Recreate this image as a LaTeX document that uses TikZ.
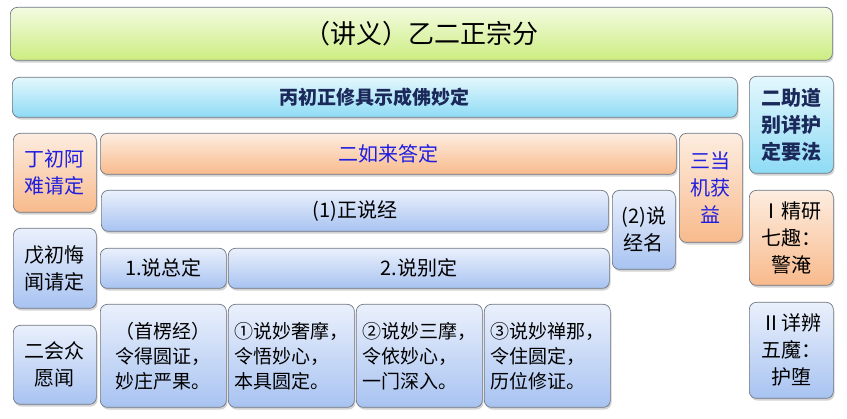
\documentclass[tikz,border=0pt]{standalone}
\usepackage{fontspec}
\setmainfont{Noto Sans CJK SC}
\usetikzlibrary{shadows}
\definecolor{gtop}{RGB}{244,251,226}
\definecolor{gbot}{RGB}{204,237,128}
\definecolor{ctop}{RGB}{228,247,253}
\definecolor{cbot}{RGB}{142,219,245}
\definecolor{otop}{RGB}{253,237,224}
\definecolor{obot}{RGB}{248,186,140}
\definecolor{btop}{RGB}{234,240,252}
\definecolor{bbot}{RGB}{168,195,241}
\definecolor{navy}{RGB}{26,40,90}
\definecolor{tblue}{RGB}{30,30,225}
\definecolor{edge}{RGB}{110,118,130}
\tikzset{
  cell/.style={draw=edge, line width=0.7pt, rounded corners=7pt, inner sep=0pt,
    align=center, anchor=north west, text=black,
    drop shadow={opacity=0.35, shadow xshift=1.2pt, shadow yshift=-2.2pt},
    font=\fontsize{20}{27}\selectfont},
  gfill/.style={top color=gtop, bottom color=gbot},
  cfill/.style={top color=ctop, bottom color=cbot, text=navy},
  ofill/.style={top color=otop, bottom color=obot, text=tblue},
  bfill/.style={top color=btop, bottom color=bbot},
  small/.style={font=\fontsize{19}{25}\selectfont},
}
\newcommand\mkbox[7]{%
  \node[cell,#6,minimum width={(#4-#2)*1pt},minimum height={(#5-#3)*1pt}]
    (#1) at (#2,#3) {#7};}
\begin{document}
\begin{tikzpicture}[x=1pt,y=-1pt]
\useasboundingbox (0,0) rectangle (847,419);
\mkbox{title}{10}{7}{832}{60}{gfill,font=\fontsize{26}{30}\selectfont}{（讲义）乙二正宗分}
\mkbox{bing}{12}{77}{737}{117}{cfill,font=\fontsize{19}{24}\selectfont\bfseries}{丙初正修具示成佛妙定}
\mkbox{zhu}{749}{76}{833}{173}{cfill,font=\fontsize{20}{27}\selectfont\bfseries}{二助道\\别详护\\定要法}
\mkbox{ding}{13}{133}{96}{212}{ofill}{丁初阿\\难请定}
\mkbox{rulai}{100}{133}{676}{174}{ofill}{二如来答定}
\mkbox{sandang}{679}{133}{742}{242}{ofill}{三当\\机获\\益}
\mkbox{zheng}{101}{190}{608}{231}{bfill}{(1)正说经}
\mkbox{jingming}{612}{190}{675}{269}{bfill}{(2)说\\经名}
\mkbox{wu}{13}{228}{96}{308}{bfill}{戊初悔\\闻请定}
\mkbox{zong}{100}{248}{226}{288}{bfill}{1.说总定}
\mkbox{bie}{228}{248}{609}{288}{bfill}{2.说别定}
\mkbox{jingyan}{749}{190}{833}{285}{ofill,text=black}{Ⅰ精研\\七趣：\\警淹}
\mkbox{hui}{13}{325}{96}{404}{bfill}{二会众\\愿闻}
\mkbox{shou}{100}{304}{226}{407}{bfill,small}{（首楞经）\\令得圆证，\\妙庄严果。}
\mkbox{sheme}{228}{304}{354}{407}{bfill,small,align=left}{①说妙奢摩，\\令悟妙心，\\本具圆定。}
\mkbox{sanmo}{356}{304}{482}{407}{bfill,small,align=left}{②说妙三摩，\\令依妙心，\\一门深入。}
\mkbox{channa}{484}{304}{610}{407}{bfill,small,align=left}{③说妙禅那，\\令住圆定，\\历位修证。}
\mkbox{xiang}{749}{302}{833}{398}{bfill}{Ⅱ详辨\\五魔：\\护堕}
\end{tikzpicture}
\end{document}
